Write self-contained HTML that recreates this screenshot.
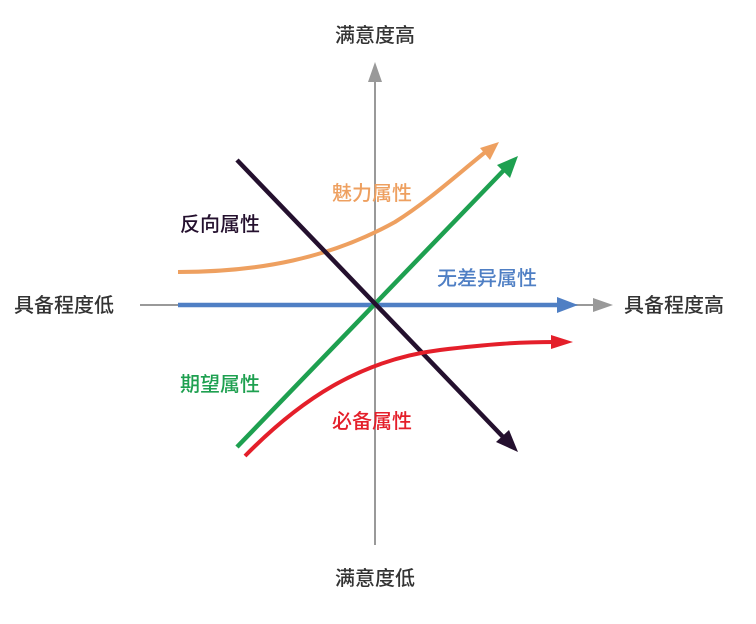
<!DOCTYPE html>
<html><head><meta charset="utf-8"><style>
body{margin:0;background:#fff;width:756px;height:619px;overflow:hidden}
svg text{font-family:"Liberation Sans","Noto Sans CJK SC",sans-serif;font-weight:500}
</style></head><body>
<svg width="756" height="619" viewBox="0 0 756 619">
<line x1="375" y1="545" x2="375" y2="80" stroke="#999" stroke-width="2"/>
<path d="M375,62 L368,82 L382,82 Z" fill="#999"/>
<line x1="140" y1="305" x2="595" y2="305" stroke="#999" stroke-width="2"/>
<path d="M613,305 L593,298 L593,312 Z" fill="#999"/>
<path d="M178,272 C260,272 330,258 395,222 C430,200 460,172 488,150" fill="none" stroke="#eea060" stroke-width="4"/>
<path d="M499,142 L480,148 L490,160 Z" fill="#eea060"/>
<line x1="178" y1="305" x2="560" y2="305" stroke="#4f7fc4" stroke-width="4.5"/>
<path d="M578,305 L557,297 L557,313 Z" fill="#4f7fc4"/>
<line x1="237" y1="447" x2="505" y2="169" stroke="#1ea050" stroke-width="4.5"/>
<path d="M518,156 L497,165 L510,178 Z" fill="#1ea050"/>
<line x1="237" y1="160" x2="505" y2="439" stroke="#24102e" stroke-width="4.5"/>
<path d="M518,452 L496,442 L509,430 Z" fill="#24102e"/>
<path d="M245,456 C300,400 360,360 440,350 C490,344 520,342 555,342" fill="none" stroke="#e41f2a" stroke-width="4"/>
<path d="M573,342 L551,335 L551,349 Z" fill="#e41f2a"/>
<g font-size="20" fill="#333">
<text x="375" y="42" text-anchor="middle">满意度高</text>
<text x="375" y="585" text-anchor="middle">满意度低</text>
<text x="14" y="312">具备程度低</text>
<text x="624" y="312">具备程度高</text>
</g>
<g font-size="20">
<text x="332" y="200" fill="#eea060">魅力属性</text>
<text x="180" y="231" fill="#24102e">反向属性</text>
<text x="437" y="285" fill="#4f7fc4">无差异属性</text>
<text x="180" y="391" fill="#1ea050">期望属性</text>
<text x="332" y="428" fill="#e41f2a">必备属性</text>
</g>
</svg>
</body></html>
